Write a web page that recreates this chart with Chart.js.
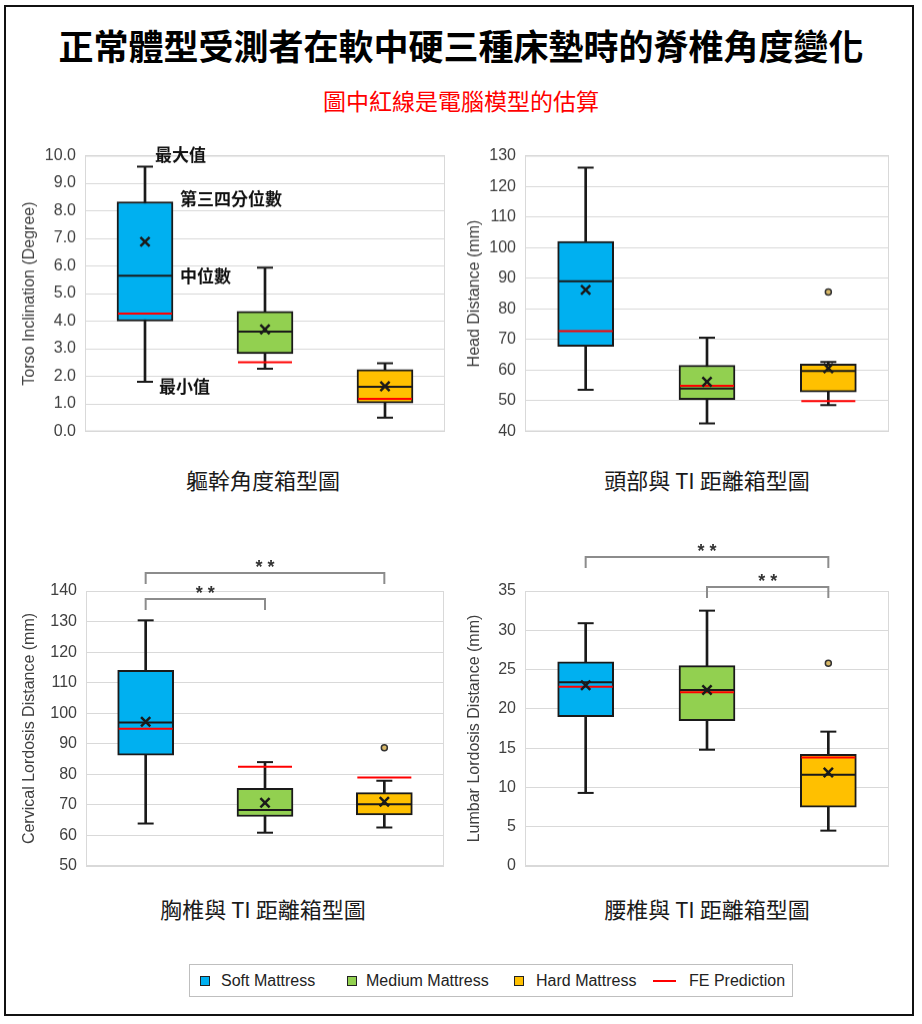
<!DOCTYPE html>
<html>
<head>
<meta charset="utf-8">
<script src="https://cdn.jsdelivr.net/npm/chart.js@4.4.1/dist/chart.umd.min.js"></script>
<style>
  html, body { margin: 0; padding: 0; background: #fff; }
  body { position: relative; width: 922px; height: 1024px; overflow: hidden; font-family: 'Noto Sans CJK TC', sans-serif; }
  .frame { position: absolute; left: 4px; top: 5px; width: 910px; height: 1011px; border: 2px solid #111; box-sizing: border-box; }
  .main-title { position: absolute; left: 0; width: 922px; top: 25px; line-height: 40px; text-align: center; font-size: 35px; font-weight: 700; color: #000; }
  .sub-title { position: absolute; left: 0; width: 922px; top: 86px; line-height: 28px; text-align: center; font-size: 23px; color: #ff0000; }
  .chart-box { position: absolute; }
  .chart-name { position: absolute; width: 440px; line-height: 28px; text-align: center; font-size: 22px; color: #1a1a1a; }
  .legend { position: absolute; left: 189px; top: 964px; width: 604px; height: 33px; border: 1px solid #bfbfbf; box-sizing: border-box; font-family: 'Liberation Sans', Arial, sans-serif; font-size: 16px; color: #222; }
  .legend span { position: absolute; top: 7px; line-height: 18px; }
  .legend i { position: absolute; top: 11px; width: 10px; height: 10px; box-sizing: border-box; border: 1.5px solid #222; }
  .legend b { position: absolute; top: 15px; width: 23px; height: 2px; background: #ff0000; }
</style>
</head>
<body>
<div class="frame"></div>
<div class="main-title">正常體型受測者在軟中硬三種床墊時的脊椎角度變化</div>
<div class="sub-title">圖中紅線是電腦模型的估算</div>

<div class="chart-box" style="left:16px;top:137px;width:434px;height:313.5px"><canvas id="torso"></canvas></div>
<div class="chart-box" style="left:461px;top:137px;width:433px;height:313.5px"><canvas id="head"></canvas></div>
<div class="chart-box" style="left:16px;top:530px;width:433px;height:356px"><canvas id="cervical"></canvas></div>
<div class="chart-box" style="left:461px;top:530px;width:433px;height:356px"><canvas id="lumbar"></canvas></div>

<div class="chart-name" style="left:43px;top:465px">軀幹角度箱型圖</div>
<div class="chart-name" style="left:487px;top:465px">頭部與 TI 距離箱型圖</div>
<div class="chart-name" style="left:43px;top:894px">胸椎與 TI 距離箱型圖</div>
<div class="chart-name" style="left:487px;top:894px">腰椎與 TI 距離箱型圖</div>

<div class="legend">
  <i style="left:10px;background:#00B0F0"></i><span style="left:31px">Soft Mattress</span>
  <i style="left:157px;background:#92D050"></i><span style="left:176px">Medium Mattress</span>
  <i style="left:324px;background:#FFC000"></i><span style="left:346px">Hard Mattress</span>
  <b style="left:463px"></b><span style="left:499px">FE Prediction</span>
</div>

<script>
const mattressTypes = ['Soft Mattress', 'Medium Mattress', 'Hard Mattress'];
const boxColors = ['#00B0F0', '#92D050', '#FFC000'];

// Torso inclination (degree)
const torsoMin = [1.8, 2.27, 0.5];
const torsoQ1 = [4.0, 2.82, 1.03];
const torsoMedian = [5.65, 3.62, 1.62];
const torsoQ3 = [8.33, 4.35, 2.24];
const torsoMax = [9.6, 5.94, 2.47];
const torsoMean = [6.88, 3.7, 1.64];
const torsoFE = [4.27, 2.51, 1.18];
const torsoOutlier = [null, null, null];
const torsoNotes = ['最大值', '第三四分位數', '中位數', '最小值'];

// Head distance (mm)
const headMin = [53.6, 42.6, 48.6];
const headQ1 = [67.8, 50.4, 52.9];
const headMedian = [89.0, 54.0, 59.7];
const headQ3 = [102.0, 61.6, 62.0];
const headMax = [126.1, 70.6, 62.7];
const headMean = [86.2, 56.2, 60.6];
const headFE = [72.7, 54.9, 49.9];
const headOutlier = [null, null, 85.5];

// Cervical lordosis distance (mm)
const cervMin = [63.9, 60.9, 62.6];
const cervQ1 = [86.3, 66.2, 66.7];
const cervMedian = [97.0, 68.3, 70.2];
const cervQ3 = [114.0, 75.4, 74.0];
const cervMax = [130.4, 84.0, 77.9];
const cervMean = [97.2, 70.7, 71.0];
const cervFE = [94.9, 82.5, 79.0];
const cervOutlier = [null, null, 88.7];
const cervPairs = [[0, 2], [0, 1]];

// Lumbar lordosis distance (mm)
const lumbMin = [9.3, 14.8, 4.5];
const lumbQ1 = [19.0, 18.5, 7.5];
const lumbMedian = [23.4, 22.4, 11.6];
const lumbQ3 = [26.0, 25.5, 14.2];
const lumbMax = [30.9, 32.5, 17.1];
const lumbMean = [23.0, 22.4, 11.9];
const lumbFE = [22.8, 22.1, 13.8];
const lumbOutlier = [null, null, 25.8];
const lumbPairs = [[0, 2], [1, 2]];

const sigLabel = '**';

Chart.defaults.font.family = "'Liberation Sans', Arial, sans-serif";

const boxExtras = {
  id: 'boxExtras',
  beforeDatasetsDraw(chart) {
    const { ctx, chartArea: a } = chart;
    ctx.save();
    ctx.strokeStyle = '#d9d9d9';
    ctx.lineWidth = 1;
    ctx.strokeRect(a.left + 0.5, a.top + 0.5, a.right - a.left - 1, a.bottom - a.top - 1);
    ctx.restore();
  },
  afterDatasetsDraw(chart, args, opts) {
    const { ctx, chartArea: a, scales: { x, y } } = chart;
    ctx.save();
    (opts.pairs || []).forEach((p, k) => {
      const x1 = x.getPixelForValue(p[0]);
      const x2 = x.getPixelForValue(p[1]);
      const yb = a.top + opts.levels[k];
      ctx.strokeStyle = '#8c8c8c';
      ctx.lineWidth = 2;
      ctx.beginPath();
      ctx.moveTo(x1, yb + 11);
      ctx.lineTo(x1, yb);
      ctx.lineTo(x2, yb);
      ctx.lineTo(x2, yb + 11);
      ctx.stroke();
      ctx.fillStyle = '#333';
      ctx.font = "bold 18px 'Liberation Sans', Arial, sans-serif";
      ctx.textAlign = 'center';
      ctx.textBaseline = 'middle';
      ctx.fillText(sigLabel.split('').join(' '), (x1 + x2) / 2, yb - 5);
    });
    (opts.notes || []).forEach(n => {
      ctx.fillStyle = '#111';
      ctx.font = "bold 17px 'Noto Sans CJK TC', sans-serif";
      ctx.textAlign = 'left';
      ctx.textBaseline = 'middle';
      ctx.fillText(n.text, x.getPixelForValue(0) + n.dx, y.getPixelForValue(n.value) + n.dy);
    });
    ctx.restore();
  }
};

function pointSet(label, data, style, radius, color, width, order, fill) {
  return {
    type: 'line', label: label, data: data, showLine: false,
    pointStyle: style, pointRadius: radius, pointHoverRadius: radius,
    pointBorderColor: color, pointBackgroundColor: fill || color,
    pointBorderWidth: width, order: order
  };
}

function makeBoxChart(id, s, axis, extra) {
  const whisker = s.min.map((v, i) => [v, s.max[i]]);
  const box = s.q1.map((v, i) => [v, s.q3[i]]);
  return new Chart(document.getElementById(id), {
    type: 'bar',
    data: {
      labels: mattressTypes,
      datasets: [
        { label: 'whisker', data: whisker, backgroundColor: '#1a1a1a', barThickness: 2, grouped: false, order: 7 },
        pointSet('min', s.min, 'line', 8, '#1a1a1a', 2, 6),
        pointSet('max', s.max, 'line', 8, '#1a1a1a', 2, 5),
        { label: 'box', data: box, backgroundColor: boxColors, borderColor: '#1a1a1a', borderWidth: 2,
          borderSkipped: false, barThickness: 56, grouped: false, order: 4 },
        pointSet('median', s.median, 'line', 27, '#1a1a1a', 2, 3),
        pointSet('FE Prediction', s.fe, 'line', 27, '#ff0000', 2, 2),
        pointSet('mean', s.mean, 'crossRot', 6.5, '#1a1a1a', 2.5, 1),
        pointSet('outlier', s.outlier, 'circle', 3, '#333', 1.5, 0, '#d8b868')
      ]
    },
    options: {
      responsive: true,
      maintainAspectRatio: false,
      animation: false,
      events: [],
      layout: { padding: axis.padding, autoPadding: false },
      plugins: {
        legend: { display: false },
        tooltip: { enabled: false },
        boxExtras: extra
      },
      scales: {
        x: { display: false },
        y: {
          min: axis.min, max: axis.max,
          ticks: { stepSize: axis.step, padding: 9, color: '#404040', font: { size: 16 },
            callback: v => axis.decimals ? v.toFixed(axis.decimals) : v },
          grid: { color: '#d9d9d9', drawTicks: false },
          border: { color: '#d9d9d9' },
          title: { display: true, text: axis.title, color: '#404040', font: { size: 16 } },
          afterFit: sc => { sc.width = axis.width; }
        }
      }
    },
    plugins: [boxExtras]
  });
}

makeBoxChart('torso',
  { min: torsoMin, q1: torsoQ1, median: torsoMedian, q3: torsoQ3, max: torsoMax, mean: torsoMean, fe: torsoFE, outlier: torsoOutlier },
  { min: 0, max: 10, step: 1, decimals: 1, title: 'Torso Inclination (Degree)', width: 69,
    padding: { top: 17, bottom: 20, left: 0, right: 5 } },
  { notes: [
      { text: torsoNotes[0], value: torsoMax[0], dx: 10, dy: -12 },
      { text: torsoNotes[1], value: torsoQ3[0], dx: 35, dy: -3 },
      { text: torsoNotes[2], value: torsoMedian[0], dx: 35, dy: 0 },
      { text: torsoNotes[3], value: torsoMin[0], dx: 14, dy: 5 }
  ] });

makeBoxChart('head',
  { min: headMin, q1: headQ1, median: headMedian, q3: headQ3, max: headMax, mean: headMean, fe: headFE, outlier: headOutlier },
  { min: 40, max: 130, step: 10, title: 'Head Distance (mm)', width: 64,
    padding: { top: 17, bottom: 20, left: 0, right: 5 } },
  {});

makeBoxChart('cervical',
  { min: cervMin, q1: cervQ1, median: cervMedian, q3: cervQ3, max: cervMax, mean: cervMean, fe: cervFE, outlier: cervOutlier },
  { min: 50, max: 140, step: 10, title: 'Cervical Lordosis Distance (mm)', width: 70,
    padding: { top: 61, bottom: 20, left: 0, right: 5 } },
  { pairs: cervPairs, levels: [-18, 8] });

makeBoxChart('lumbar',
  { min: lumbMin, q1: lumbQ1, median: lumbMedian, q3: lumbQ3, max: lumbMax, mean: lumbMean, fe: lumbFE, outlier: lumbOutlier },
  { min: 0, max: 35, step: 5, title: 'Lumbar Lordosis Distance (mm)', width: 64,
    padding: { top: 61, bottom: 20, left: 0, right: 5 } },
  { pairs: lumbPairs, levels: [-34, -4] });
</script>
</body>
</html>
